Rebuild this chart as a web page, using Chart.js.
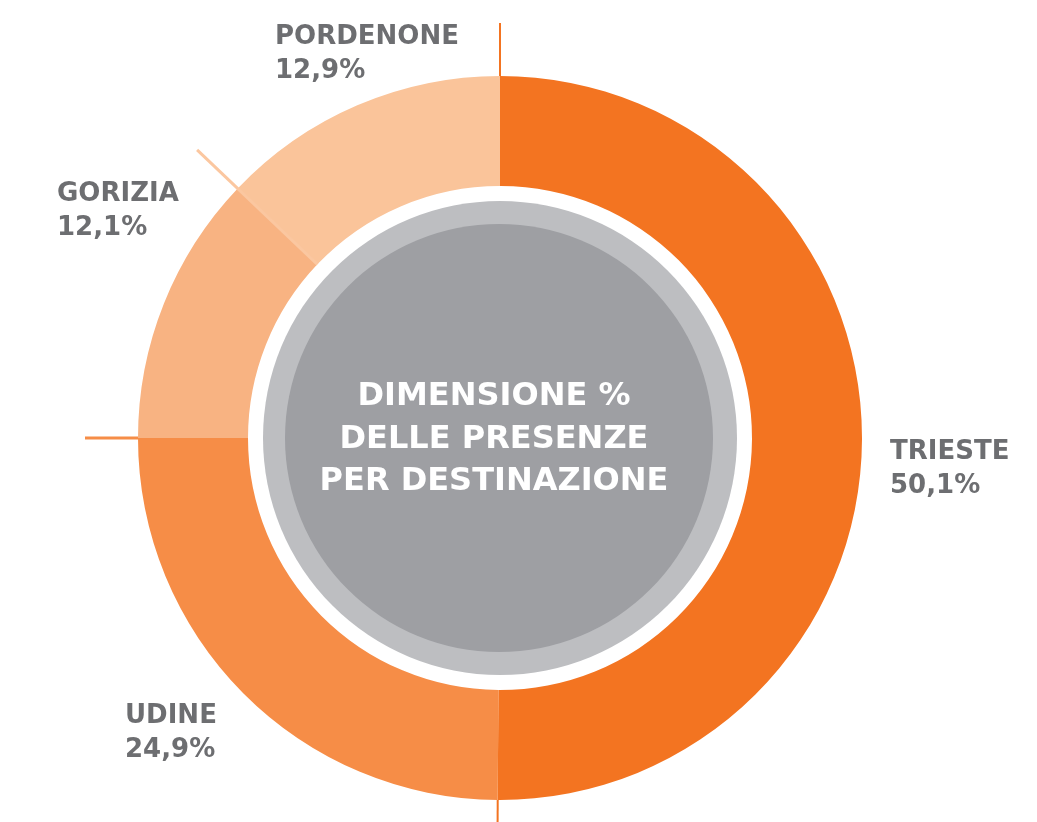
<!DOCTYPE html>
<html><head><meta charset="utf-8">
<script src="https://cdn.jsdelivr.net/npm/chart.js@4/dist/chart.umd.min.js"></script>
<style>html,body{margin:0;padding:0;background:#fff}#wrap{width:1037px;height:822px;position:relative}</style>
</head><body><div id="wrap"><canvas id="c" width="1037" height="822"></canvas></div>
<script>
// ---- data ----
const categories = ['TRIESTE', 'UDINE', 'GORIZIA', 'PORDENONE'];
const shares = [50.1, 24.9, 12.1, 12.9];
const shareLabels = ['50,1%', '24,9%', '12,1%', '12,9%'];
const centerTitle = ['DIMENSIONE %', 'DELLE PRESENZE', 'PER DESTINAZIONE'];

// ---- styles ----
const segColors = ['#F37421', '#F68D47', '#F8B382', '#FAC49A'];
// leader line drawn at each segment's start angle
const leaderColors = ['#F37421', '#F37421', '#F68D47', '#FBC7A0'];
const leaderWidths = [2, 2, 3, 3];
const leaderFromInner = [false, false, false, true];
const leaderExt = [53, 53, 53, 56];
// label anchor offsets from chart centre (left x, first baseline y)
const labelOffsets = [[390, 21], [-375, 285], [-443, -237], [-225, -394]];
const textGray = '#6D6E71';
const labelFont = 'bold 26px "DejaVu Sans"';
const centerFont = 'bold 32px "DejaVu Sans"';

const decor = {
  id: 'decor',
  beforeDatasetsDraw(chart) {
    const arc = chart.getDatasetMeta(0).data[0];
    const ctx = chart.ctx;
    const cx = arc.x, cy = arc.y;
    ctx.save();
    ctx.fillStyle = '#BDBEC1';
    ctx.beginPath(); ctx.arc(cx, cy, 237, 0, Math.PI * 2); ctx.fill();
    ctx.fillStyle = '#9E9FA3';
    ctx.beginPath(); ctx.arc(cx - 1, cy, 214, 0, Math.PI * 2); ctx.fill();
    ctx.restore();
  },
  afterDatasetsDraw(chart) {
    const meta = chart.getDatasetMeta(0);
    const ctx = chart.ctx;
    ctx.save();
    meta.data.forEach((el, i) => {
      const a = el.startAngle;
      const r0 = leaderFromInner[i] ? el.innerRadius : el.outerRadius;
      const r1 = el.outerRadius + leaderExt[i];
      ctx.strokeStyle = leaderColors[i];
      ctx.lineWidth = leaderWidths[i];
      ctx.beginPath();
      ctx.moveTo(el.x + r0 * Math.cos(a), el.y + r0 * Math.sin(a));
      ctx.lineTo(el.x + r1 * Math.cos(a), el.y + r1 * Math.sin(a));
      ctx.stroke();
    });
    const cx = meta.data[0].x, cy = meta.data[0].y;
    // outside labels
    ctx.fillStyle = textGray;
    ctx.font = labelFont;
    ctx.textAlign = 'left';
    ctx.textBaseline = 'alphabetic';
    categories.forEach((name, i) => {
      const [dx, dy] = labelOffsets[i];
      ctx.fillText(name, cx + dx, cy + dy);
      ctx.fillText(shareLabels[i], cx + dx, cy + dy + 34);
    });
    // centre title
    ctx.fillStyle = '#FFFFFF';
    ctx.font = centerFont;
    ctx.textAlign = 'center';
    centerTitle.forEach((t, k) => {
      ctx.fillText(t, cx - 6, cy - 33 + k * 42.5);
    });
    ctx.restore();
  }
};

new Chart(document.getElementById('c'), {
  type: 'doughnut',
  data: {
    labels: categories,
    datasets: [{
      data: shares,
      backgroundColor: segColors,
      borderWidth: 0,
      hoverOffset: 0,
      offset: 0
    }]
  },
  options: {
    responsive: false,
    animation: false,
    events: [],
    radius: 362,
    cutout: 252,
    rotation: 0,
    layout: { padding: { left: 138, right: 175, top: 76, bottom: 22 } },
    plugins: { legend: { display: false }, tooltip: { enabled: false } }
  },
  plugins: [decor]
});
</script>
</body></html>
